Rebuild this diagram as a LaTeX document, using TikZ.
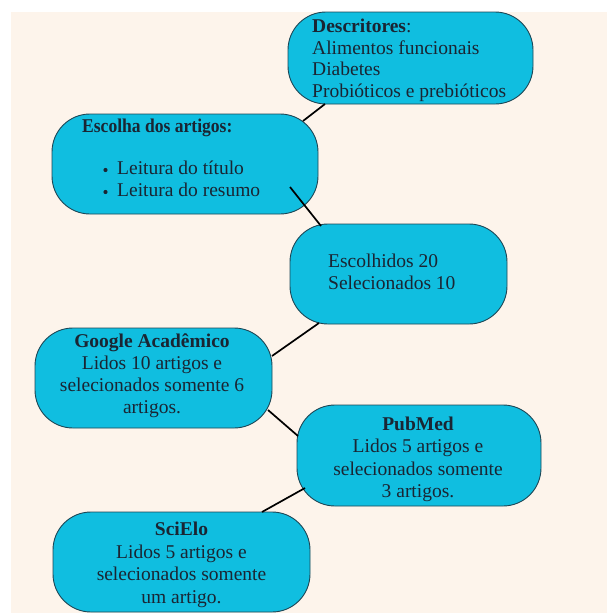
\documentclass[tikz,border=0pt]{standalone}
\usepackage{fontspec}
\setmainfont{Liberation Serif}
\definecolor{boxfill}{HTML}{10BEE0}
\definecolor{boxline}{HTML}{1D4655}
\definecolor{txtcol}{HTML}{1A2533}
\definecolor{cream}{HTML}{FDF4EB}
\begin{document}
\begin{tikzpicture}[x=1pt,y=-1pt,
  box/.style={draw=boxline, line width=0.9pt, fill=boxfill, rounded corners=38pt, inner sep=0pt},
  txt/.style={anchor=base west, inner sep=0pt, text=txtcol, font=\fontsize{19.5}{22}\selectfont},
  ctxt/.style={txt, anchor=base},
  dot/.style={circle, fill=txtcol, inner sep=0pt, minimum size=4.2pt},
  link/.style={line width=1.7pt, draw=black}]
\useasboundingbox (0,0) rectangle (607,613);
\fill[cream] (11,12) rectangle (607,613);

% boxes
\node[box, minimum width=245pt, minimum height=92pt] (b1) at (410.5,58) {};
\node[box, minimum width=266pt, minimum height=100pt] (b2) at (185,164) {};
\node[box, minimum width=217pt, minimum height=100pt] (b3) at (398.5,274) {};
\node[box, minimum width=237pt, minimum height=100pt] (b4) at (153.5,378) {};
\node[box, minimum width=244pt, minimum height=101pt] (b5) at (419,455.5) {};
\node[box, minimum width=257pt, minimum height=100pt] (b6) at (181.5,562) {};

% connector end points
\coordinate (c12a) at (325,104); \coordinate (c12b) at (303,121);
\coordinate (c23a) at (290,187); \coordinate (c23b) at (321,226);
\coordinate (c34a) at (319,323); \coordinate (c34b) at (272,356);
\coordinate (c45a) at (268,410); \coordinate (c45b) at (298,436);
\coordinate (c56a) at (305,488); \coordinate (c56b) at (262,512);
\draw[link] (c12a) -- (c12b);
\draw[link] (c23a) -- (c23b);
\draw[link] (c34a) -- (c34b);
\draw[link] (c45a) -- (c45b);
\draw[link] (c56a) -- (c56b);

% texts box 1
\node[txt] (t1a) at (312,32) {\textbf{Descritores}:};
\node[txt] (t1b) at (312,54) {Alimentos funcionais};
\node[txt] (t1c) at (312,75.5) {Diabetes};
\node[txt] (t1d) at (312,97) {Probióticos e prebióticos};
% box 2
\node[txt] (t2a) at (82,132) {\scalebox{0.9}[1]{\textbf{Escolha dos artigos:}}};
\node[dot] (t2b) at (105.5,170) {};
\node[txt] (t2c) at (117,174) {Leitura do título};
\node[dot] (t2d) at (105.5,192) {};
\node[txt] (t2e) at (117,196) {Leitura do resumo};
% box 3
\node[txt] (t3a) at (328,267) {Escolhidos 20};
\node[txt] (t3b) at (328,289) {Selecionados 10};
% box 4
\node[ctxt] (t4a) at (152,347) {\textbf{Google Acadêmico}};
\node[ctxt] (t4b) at (152,369) {Lidos 10 artigos e};
\node[ctxt] (t4c) at (152,391) {selecionados somente 6};
\node[ctxt] (t4d) at (152,413) {artigos.};
% box 5
\node[ctxt] (t5a) at (418,430) {\textbf{PubMed}};
\node[ctxt] (t5b) at (418,452) {Lidos 5 artigos e};
\node[ctxt] (t5c) at (418,475) {selecionados somente};
\node[ctxt] (t5d) at (418,497) {3 artigos.};
% box 6
\node[ctxt] (t6a) at (181.5,535) {\textbf{SciElo}};
\node[ctxt] (t6b) at (181.5,558) {Lidos 5 artigos e};
\node[ctxt] (t6c) at (181.5,580) {selecionados somente};
\node[ctxt] (t6d) at (181.5,603) {um artigo.};
\end{tikzpicture}
\end{document}
